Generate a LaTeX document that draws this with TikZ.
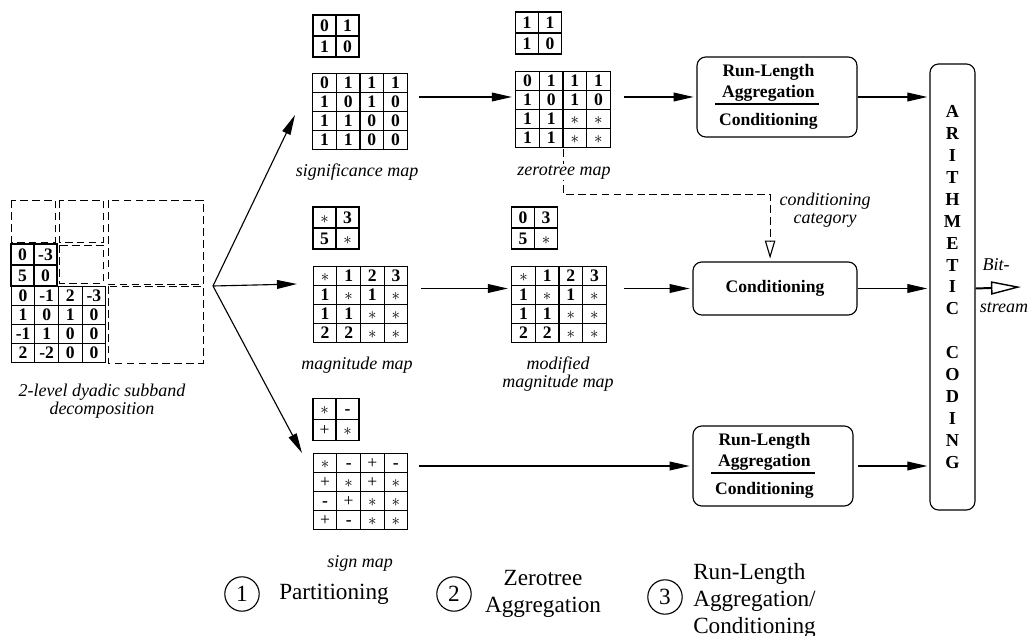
\documentclass[tikz,border=0pt]{standalone}
\usepackage{fontspec}
\setmainfont{Liberation Serif}
\usetikzlibrary{arrows.meta,matrix}

\newcommand{\astr}{$\ast$}
\newcommand{\rlcond}{\begin{tabular}{@{\hspace{3pt}}c@{\hspace{1pt}}}Run-Length\\Aggregation\\\hline\rule{0pt}{15pt}Conditioning\end{tabular}}
\setlength{\arrayrulewidth}{0.9pt}

\begin{document}
\begin{tikzpicture}[x=0.025cm,y=-0.025cm,line width=0.8pt,
  >={Triangle[length=5mm,width=2.2mm]},
  grid/.style={matrix of nodes,inner sep=0pt,column sep=-\pgflinewidth,row sep=-\pgflinewidth,
    nodes={draw,anchor=center,inner sep=0pt,text height=8.5pt,text depth=0.5pt,
      minimum width=5.9mm,minimum height=4.8mm,font=\fontsize{12.5}{14}\selectfont\bfseries}},
  smallgrid/.style={grid,nodes={minimum width=5.75mm,minimum height=5.25mm}},
  signgrid/.style={nodes={font=\fontsize{12.5}{14}\selectfont}},
  dashbox/.style={line width=0.6pt,dash pattern=on 5.5pt off 3pt},
  stage/.style={draw,rounded corners=2.2mm,inner sep=0pt,align=center,font=\fontsize{12.5}{14.6}\selectfont\bfseries},
  lbl/.style={inner sep=1pt,align=center,font=\fontsize{12.8}{13}\selectfont\itshape},
  numcirc/.style={draw,circle,inner sep=0pt,minimum size=8.6mm,font=\fontsize{16.5}{19}\selectfont},
  legend/.style={align=center,font=\fontsize{16.5}{19}\selectfont}]
  \useasboundingbox (0,0) rectangle (1028,636);

  % subband decomposition
  \draw[dashbox] (11,200) rectangle (55,242);
  \draw[dashbox] (59,200) rectangle (103,242);
  \draw[dashbox] (59,245) rectangle (103,283);
  \draw[dashbox] (108,200) rectangle (203,284);
  \draw[dashbox] (108,286) rectangle (203,363);
  \matrix (ll2) [smallgrid] at (34,265) {0 & -3\\ 5 & 0\\};
  \matrix (ll1) [grid] at (58.5,324.5) {0 & -1 & 2 & -3\\ 1 & 0 & 1 & 0\\ -1 & 1 & 0 & 0\\ 2 & -2 & 0 & 0\\};

  % partitioned maps
  \matrix (sig2) [smallgrid] at (336,36) {0 & 1\\ 1 & 0\\};
  \matrix (sig4) [grid] at (360,111.5) {0 & 1 & 1 & 1\\ 1 & 0 & 1 & 0\\ 1 & 1 & 0 & 0\\ 1 & 1 & 0 & 0\\};
  \matrix (mag2) [smallgrid] at (336,228) {\astr & 3\\ 5 & \astr\\};
  \matrix (mag4) [grid] at (360.5,304.5) {\astr & 1 & 2 & 3\\ 1 & \astr & 1 & \astr\\ 1 & 1 & \astr & \astr\\ 2 & 2 & \astr & \astr\\};
  \matrix (sgn2) [smallgrid,signgrid] at (336,419.5) {\astr & {\bfseries -}\\ + & \astr\\};
  \matrix (sgn4) [grid,signgrid] at (360.5,491.5) {\astr & {\bfseries -} & + & {\bfseries -}\\ + & \astr & + & \astr\\ {\bfseries -} & + & \astr & \astr\\ + & {\bfseries -} & \astr & \astr\\};

  % zerotree aggregated maps
  \matrix (zt2) [smallgrid] at (538.5,33) {1 & 1\\ 1 & 0\\};
  \matrix (zt4) [grid] at (563,109.5) {0 & 1 & 1 & 1\\ 1 & 0 & 1 & 0\\ 1 & 1 & \astr & \astr\\ 1 & 1 & \astr & \astr\\};
  \matrix (mod2) [smallgrid] at (534.5,228) {0 & 3\\ 5 & \astr\\};
  \matrix (mod4) [grid] at (559,304.5) {\astr & 1 & 2 & 3\\ 1 & \astr & 1 & \astr\\ 1 & 1 & \astr & \astr\\ 2 & 2 & \astr & \astr\\};

  % coding stages
  \node[stage,minimum width=4cm,minimum height=2cm] (rl1) at (777,97) {\rlcond\hspace*{5mm}};
  \node[stage,minimum width=4.1cm,minimum height=1.325cm] (cond) at (775,288.5) {Conditioning};
  \node[stage,minimum width=4cm,minimum height=2cm] (rl3) at (773,466) {\rlcond\hspace*{5mm}};
  \node[stage,minimum width=1.125cm,minimum height=11.15cm,font=\fontsize{13}{15.6}\selectfont\bfseries] (ac) at (952.5,287)
    {A\\R\\I\\T\\H\\M\\E\\T\\I\\C\\[15.6pt]C\\O\\D\\I\\N\\G};

  % partitioning fan
  \coordinate (fan) at (213,286);
  \coordinate (sigtip) at (295,115);
  \coordinate (magtip) at (297,284);
  \coordinate (sgntip) at (302,453);
  \draw[->] (fan) -- (sigtip);
  \draw[->] (fan) -- (magtip);
  \draw[->] (fan) -- (sgntip);

  \draw[->,shorten <=7.8pt,shorten >=2pt] (sig4.east |- rl1.west) -- (zt4.west |- rl1.west);
  \draw[->,shorten <=9.2pt,shorten >=2pt] (zt4.east |- rl1.west) -- (rl1.west);
  \draw[->,shorten >=1.5pt] (rl1.east) -- (ac.west |- rl1.east);
  \draw[->,shorten <=8.5pt,shorten >=2pt] (mag4.east |- cond.west) -- (mod4.west |- cond.west);
  \draw[->,shorten <=12pt,shorten >=2pt] (mod4.east |- cond.west) -- (cond.west);
  \draw[->,shorten >=1.5pt] (cond.east) -- (ac.west |- cond.east);
  \draw[->,shorten <=7pt,shorten >=2pt] (sgn4.east |- rl3.west) -- (rl3.west);
  \draw[->,shorten <=3pt,shorten >=1.5pt] (rl3.east) -- (ac.west |- rl3.east);

  % conditioning category
  \draw[dashbox,-{Triangle[open,length=4.5mm,width=2.6mm,line width=0.8pt]},shorten >=2pt]
    (zt4.south) -- ++(0,45) -| ([xshift=-3.5pt]cond.north);

  % bitstream
  \coordinate (bitend) at (1021,287);
  \draw[line width=1.4pt,-{Triangle[open,length=7.5mm,width=3.3mm,line width=1pt]}] (ac.east |- cond.east) -- (bitend);
  \node[lbl] (bitlbl) at (996,265) {Bit-};
  \node[lbl] (streamlbl) at (1004,308) {stream};

  % map labels
  \node[lbl] (declbl) at (102,401) {2-level dyadic subband\\decomposition};
  \node[lbl] (siglbl) at (357,172) {significance map};
  \node[lbl,fill=white] (ztlbl) at (564,172) {zerotree map};
  \node[lbl] (maglbl) at (357,365) {magnitude map};
  \node[lbl] (modlbl) at (558,374) {modified\\magnitude map};
  \node[lbl] (sgnlbl) at (360,563) {sign map};
  \node[lbl] (catlbl) at (825,210) {conditioning\\category};

  % legend
  \node[numcirc] (n1) at (242,594) {1};
  \node[legend,anchor=west] (t1) at (274,594) {Partitioning};
  \node[numcirc] (n2) at (454,594) {2};
  \node[legend] (t2) at (543,594) {Zerotree\\Aggregation};
  \node[numcirc] (n3) at (665,597) {3};
  \node[legend,align=left,anchor=west] (t3) at (688,601) {Run-Length\\Aggregation/\\Conditioning};
\end{tikzpicture}
\end{document}
